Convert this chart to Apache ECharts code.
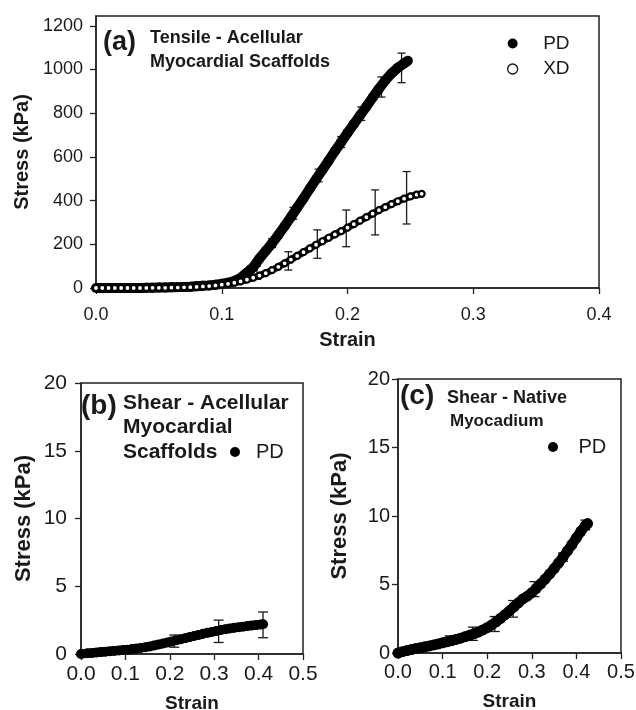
<!DOCTYPE html>
<html>
<head>
<meta charset="utf-8">
<script src="https://cdn.jsdelivr.net/npm/echarts@6.0.0/dist/echarts.min.js"></script>
<style>
html,body{margin:0;padding:0;background:#fff;}
#chart{width:636px;height:710px;}
</style>
</head>
<body>
<div id="chart"></div>
<script>
// ---------- Panel (a): Tensile - Acellular Myocardial Scaffolds ----------
const aPdStrain = [0,0.005,0.01,0.015,0.02,0.025,0.03,0.035,0.04,0.045,0.05,0.055,0.06,0.065,0.07,0.075,0.08,0.085,0.09,0.095,
  0.1,0.105,0.11,0.115,0.12,0.125,0.13,0.135,0.14,0.145,0.15,0.155,0.16,0.165,0.17,0.175,0.18,0.185,0.19,0.195,
  0.2,0.205,0.21,0.215,0.22,0.225,0.23,0.235,0.24,0.245,0.248];
const aPdStress = [0,0,0,0,0,0,0,0,1,1,2,2,3,4,5,6,8,10,12,15,
  19,24,32,46,70,95,135,170,205,243,283,325,368,410,455,498,540,583,627,668,
  710,750,790,830,872,912,950,982,1008,1028,1040];
const aXdStrain = [0,0.005,0.01,0.015,0.02,0.025,0.03,0.035,0.04,0.045,0.05,0.055,0.06,0.065,0.07,0.075,0.08,0.085,0.09,0.095,
  0.1,0.105,0.11,0.115,0.12,0.125,0.13,0.135,0.14,0.145,0.15,0.155,0.16,0.165,0.17,0.175,0.18,0.185,0.19,0.195,
  0.2,0.205,0.21,0.215,0.22,0.225,0.23,0.235,0.24,0.245,0.25,0.255,0.259];
const aXdStress = [0,0,0,0,0,0,0,0,0,1,1,1,2,2,3,4,5,7,9,12,
  15,19,24,30,38,47,57,68,82,97,113,130,147,164,181,198,214,230,245,260,
  276,292,308,324,340,356,370,384,397,409,419,427,431];
const aPdErrStrain = [0.123,0.140,0.157,0.177,0.195,0.211,0.227,0.243];
const aPdErrLow    = [70,185,315,486,643,767,874,940];
const aPdErrHigh   = [100,225,369,544,693,829,966,1075];
const aXdErrStrain = [0.128,0.153,0.176,0.199,0.222,0.247];
const aXdErrLow    = [40,82,136,189,243,293];
const aXdErrHigh   = [100,166,266,357,449,533];
const aXTicks = [0,0.1,0.2,0.3,0.4];
const aYTicks = [0,200,400,600,800,1000,1200];

// ---------- Panel (b): Shear - Acellular Myocardial Scaffolds ----------
const bPdStrain = [0,0.015,0.025,0.035,0.045,0.055,0.065,0.075,0.085,0.095,0.105,0.115,0.125,0.135,0.145,0.155,0.165,0.175,0.185,0.195,
  0.205,0.215,0.225,0.235,0.245,0.255,0.265,0.275,0.285,0.295,0.305,0.315,0.325,0.335,0.345,0.355,0.365,0.375,0.385,0.395,0.405,0.41];
const bPdStress = [0,0.05,0.08,0.11,0.14,0.17,0.2,0.23,0.26,0.29,0.32,0.36,0.4,0.45,0.5,0.56,0.63,0.7,0.77,0.85,
  0.93,1.01,1.09,1.17,1.25,1.33,1.41,1.49,1.56,1.63,1.7,1.77,1.83,1.88,1.93,1.98,2.02,2.06,2.1,2.14,2.18,2.2];
const bErrStrain = [0.21,0.31,0.41];
const bErrLow    = [0.5,0.85,1.2];
const bErrHigh   = [1.4,2.5,3.1];

// ---------- Panel (c): Shear - Native Myocadium ----------
const cPdStrain = [0,0.01,0.02,0.03,0.04,0.05,0.06,0.07,0.08,0.09,0.1,0.11,0.12,0.13,0.14,0.15,0.16,0.17,0.18,0.19,
  0.2,0.21,0.22,0.23,0.24,0.25,0.26,0.27,0.28,0.29,0.3,0.31,0.32,0.33,0.34,0.35,0.36,0.37,0.38,0.39,0.4,0.41,0.42,0.425];
const cPdStress = [0,0.1,0.18,0.25,0.32,0.38,0.45,0.52,0.59,0.66,0.74,0.82,0.9,0.99,1.08,1.18,1.29,1.4,1.53,1.68,
  1.85,2.05,2.28,2.53,2.8,3.08,3.37,3.66,3.95,4.15,4.4,4.72,5.05,5.4,5.77,6.16,6.57,7.0,7.45,7.92,8.4,8.88,9.3,9.45];
const cErrStrain = [0.065,0.116,0.168,0.217,0.258,0.306,0.37,0.42];
const cErrLow    = [0.35,0.7,0.92,1.57,2.62,4.12,6.7,9.0];
const cErrHigh   = [0.6,1.25,1.89,2.66,3.83,5.21,7.3,9.7];
const bcXTicks = [0,0.1,0.2,0.3,0.4,0.5];
const bcYTicks = [0,5,10,15,20];

// ---------- Chart ----------
const FONT = '"Liberation Sans", Arial, Helvetica, sans-serif';
const INK = '#1a1a1a';
const zip = (xs, ys) => xs.map((x, i) => [x, ys[i]]);
const zip3 = (xs, lo, hi) => xs.map((x, i) => [x, lo[i], hi[i]]);

function errRender(capHalf) {
  return function (params, api) {
    const x = api.value(0), lo = api.value(1), hi = api.value(2);
    const p1 = api.coord([x, lo]), p2 = api.coord([x, hi]);
    const st = { stroke: INK, lineWidth: 1.3 };
    return {
      type: 'group',
      children: [
        { type: 'line', shape: { x1: p1[0], y1: p1[1], x2: p2[0], y2: p2[1] }, style: st },
        { type: 'line', shape: { x1: p1[0] - capHalf, y1: p1[1], x2: p1[0] + capHalf, y2: p1[1] }, style: st },
        { type: 'line', shape: { x1: p2[0] - capHalf, y1: p2[1], x2: p2[0] + capHalf, y2: p2[1] }, style: st }
      ]
    };
  };
}

function xAxisCfg(idx, max, ticks, fs, margin, nameFs, nameGap) {
  return {
    type: 'value', gridIndex: idx, min: 0, max: max,
    name: 'Strain', nameLocation: 'middle', nameGap: nameGap,
    nameTextStyle: { fontFamily: FONT, fontSize: nameFs, fontWeight: 'bold', color: INK },
    axisLine: { show: true, onZero: false, lineStyle: { color: '#222', width: 1.5 } },
    axisTick: { show: true, inside: false, length: 6, customValues: ticks, lineStyle: { color: '#222', width: 1.3 } },
    axisLabel: { customValues: ticks, fontFamily: FONT, fontSize: fs, color: INK, margin: margin,
      formatter: v => Number(v).toFixed(1) },
    splitLine: { show: false }
  };
}
function yAxisCfg(idx, max, ticks, fs, margin, nameFs, nameGap) {
  return {
    type: 'value', gridIndex: idx, min: 0, max: max,
    name: 'Stress (kPa)', nameLocation: 'middle', nameGap: nameGap,
    nameTextStyle: { fontFamily: FONT, fontSize: nameFs, fontWeight: 'bold', color: INK },
    axisLine: { show: true, onZero: false, lineStyle: { color: '#222', width: 1.5 } },
    axisTick: { show: true, inside: false, length: 6, customValues: ticks, lineStyle: { color: '#222', width: 1.3 } },
    axisLabel: { customValues: ticks, fontFamily: FONT, fontSize: fs, color: INK, margin: margin,
      formatter: v => String(v) },
    splitLine: { show: false }
  };
}

function txt(x, y, text, size, bold) {
  return { type: 'text', x: x, y: y, silent: true,
    style: { text: text, fill: INK, fontFamily: FONT, fontSize: size, fontWeight: bold ? 'bold' : 'normal',
      verticalAlign: 'middle', textVerticalAlign: 'middle', align: 'left' } };
}

const gridStyle = { show: true, borderColor: '#222', borderWidth: 1.5, backgroundColor: 'rgba(0,0,0,0)',
  containLabel: false, outerBoundsMode: 'none' };

const option = {
  animation: false,
  backgroundColor: '#fff',
  grid: [
    Object.assign({ left: 96, right: 37, top: 16, bottom: 422 }, gridStyle),
    Object.assign({ left: 81, right: 333, top: 383, bottom: 56 }, gridStyle),
    Object.assign({ left: 398, right: 15, top: 379, bottom: 57 }, gridStyle)
  ],
  xAxis: [
    xAxisCfg(0, 0.4, aXTicks, 18, 18, 20, 42),
    xAxisCfg(1, 0.5, bcXTicks, 21, 10, 19, 40),
    xAxisCfg(2, 0.5, bcXTicks, 20, 9, 19, 39)
  ],
  yAxis: [
    yAxisCfg(0, 1245, aYTicks, 18, 13, 20, 62),
    yAxisCfg(1, 20, bcYTicks, 21, 14, 22, 46),
    yAxisCfg(2, 20, bcYTicks, 20, 8, 22, 47)
  ],
  legend: [
    { orient: 'vertical', left: 507, top: 34, padding: 0, itemWidth: 51, itemHeight: 10, itemGap: 6.5,
      selectedMode: false, textStyle: { fontFamily: FONT, fontSize: 19, color: INK },
      data: [
        { name: 'PD', icon: 'circle', itemStyle: { color: '#000', borderWidth: 0 } },
        { name: 'XD', icon: 'circle', itemStyle: { color: '#fff', borderColor: '#111', borderWidth: 1.3 } }
      ] },
    { orient: 'vertical', left: 230, top: 442, padding: 0, itemWidth: 32, itemHeight: 10,
      selectedMode: false, textStyle: { fontFamily: FONT, fontSize: 20, color: INK },
      data: [{ name: 'PD', icon: 'circle', itemStyle: { color: '#000', borderWidth: 0 } }] },
    { orient: 'vertical', left: 548, top: 437, padding: 0, itemWidth: 41, itemHeight: 10,
      selectedMode: false, textStyle: { fontFamily: FONT, fontSize: 20, color: INK },
      data: [{ name: 'PD', icon: 'circle', itemStyle: { color: '#000', borderWidth: 0 } }] }
  ],
  graphic: [
    txt(103, 43, '(a)', 27, true),
    txt(150, 38, 'Tensile - Acellular', 18, true),
    txt(150, 62, 'Myocardial Scaffolds', 18, true),
    txt(81, 406, '(b)', 28, true),
    txt(123, 403, 'Shear - Acellular', 21, true),
    txt(123, 427, 'Myocardial', 21, true),
    txt(123, 452, 'Scaffolds', 21, true),
    txt(400, 396, '(c)', 28, true),
    txt(447, 398, 'Shear - Native', 18, true),
    txt(450, 421, 'Myocadium', 17, true)
  ],
  series: [
    { type: 'custom', name: 'PD error (a)', xAxisIndex: 0, yAxisIndex: 0, z: 1, silent: true,
      renderItem: errRender(4), encode: { x: 0, y: [1, 2] }, data: zip3(aPdErrStrain, aPdErrLow, aPdErrHigh) },
    { type: 'custom', name: 'XD error (a)', xAxisIndex: 0, yAxisIndex: 0, z: 1, silent: true,
      renderItem: errRender(4), encode: { x: 0, y: [1, 2] }, data: zip3(aXdErrStrain, aXdErrLow, aXdErrHigh) },
    { type: 'line', name: 'PD', xAxisIndex: 0, yAxisIndex: 0, z: 3, silent: true, clip: false,
      data: zip(aPdStrain, aPdStress), symbol: 'circle', symbolSize: 10, showSymbol: true,
      itemStyle: { color: '#000' }, lineStyle: { color: '#000', width: 10 } },
    { type: 'line', name: 'XD', xAxisIndex: 0, yAxisIndex: 0, z: 4, silent: true, clip: false,
      data: zip(aXdStrain, aXdStress), symbol: 'circle', symbolSize: 6, showSymbol: true,
      itemStyle: { color: '#fff', borderColor: '#000', borderWidth: 2.2 }, lineStyle: { color: '#111', width: 7 } },

    { type: 'custom', name: 'PD error (b)', xAxisIndex: 1, yAxisIndex: 1, z: 1, silent: true,
      renderItem: errRender(5), encode: { x: 0, y: [1, 2] }, data: zip3(bErrStrain, bErrLow, bErrHigh) },
    { type: 'line', name: 'PD', xAxisIndex: 1, yAxisIndex: 1, z: 3, silent: true, clip: false,
      data: zip(bPdStrain, bPdStress), symbol: 'circle', symbolSize: 10, showSymbol: true,
      itemStyle: { color: '#000' }, lineStyle: { color: '#000', width: 9 } },

    { type: 'custom', name: 'PD error (c)', xAxisIndex: 2, yAxisIndex: 2, z: 1, silent: true,
      renderItem: errRender(5), encode: { x: 0, y: [1, 2] }, data: zip3(cErrStrain, cErrLow, cErrHigh) },
    { type: 'line', name: 'PD', xAxisIndex: 2, yAxisIndex: 2, z: 3, silent: true, clip: false,
      data: zip(cPdStrain, cPdStress), symbol: 'circle', symbolSize: 11, showSymbol: true,
      itemStyle: { color: '#000' }, lineStyle: { color: '#000', width: 10 } }
  ]
};

const chart = echarts.init(document.getElementById('chart'), null, { renderer: 'canvas' });
chart.setOption(option);
</script>
</body>
</html>
